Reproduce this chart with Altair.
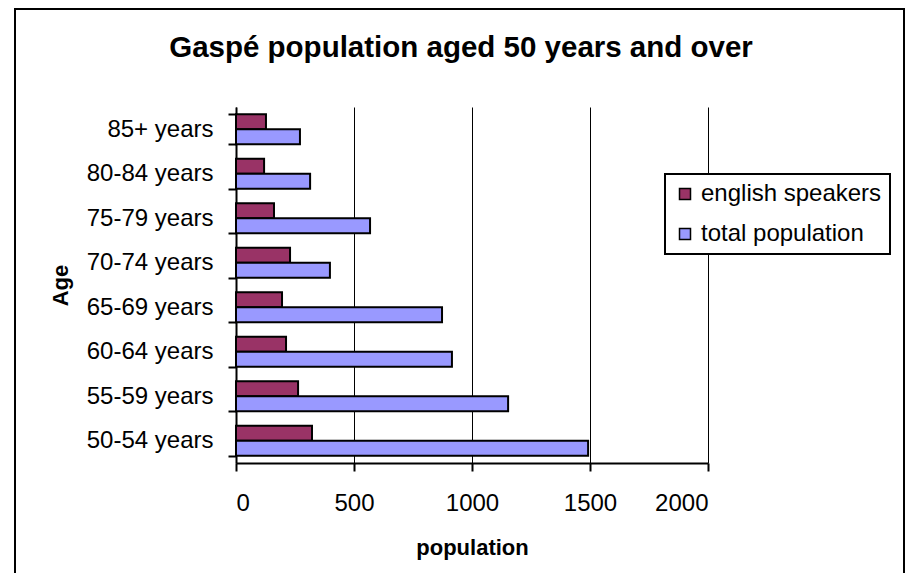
import altair as alt
import pandas as pd

ages = ["85+ years", "80-84 years", "75-79 years", "70-74 years",
        "65-69 years", "60-64 years", "55-59 years", "50-54 years"]
english = [127, 119, 161, 229, 195, 212, 263, 322]
total = [271, 314, 568, 398, 873, 915, 1153, 1492]
series = ["english speakers", "total population"]
colors = ["#993366", "#9999FF"]
ticks = [0, 500, 1000, 1500, 2000]

rows = []
for a, e, t in zip(ages, english, total):
    rows.append({"age": a, "series": series[0], "population": e})
    rows.append({"age": a, "series": series[1], "population": t})
df = pd.DataFrame(rows)

FONT = "Liberation Sans"

bars = alt.Chart(df).mark_bar(stroke="black", strokeWidth=2).encode(
    x=alt.X("population:Q",
            scale=alt.Scale(domain=[0, 2000], nice=False),
            axis=alt.Axis(values=ticks, grid=True, gridColor="black", gridWidth=1,
                          gridOpacity=1, labelPadding=20, titlePadding=22,
                          format="d"),
            title="population"),
    y=alt.Y("age:N", sort=ages,
            scale=alt.Scale(paddingInner=0.33, paddingOuter=0.165),
            axis=alt.Axis(tickBand="extent", labelPadding=15, titlePadding=14, grid=False),
            title="Age"),
    yOffset=alt.YOffset("series:N", sort=series,
                        scale=alt.Scale(domain=series, paddingInner=0, paddingOuter=0)),
    color=alt.Color("series:N",
                    scale=alt.Scale(domain=series, range=colors),
                    legend=alt.Legend(title=None, orient="none", legendX=429, legendY=67,
                                      symbolType="square", symbolSize=121,
                                      symbolStrokeColor="black", symbolStrokeWidth=1.5,
                                      labelFontSize=24, labelFont=FONT, labelColor="black",
                                      labelOffset=4, padding=8, rowPadding=16,
                                      strokeColor="black", fillColor="white",
                                      labelLimit=300)),
)

frame = alt.Chart(alt.Data(values=[{"k": 1}])).mark_rect(
    filled=False, stroke="black", strokeWidth=2
).encode(
    x=alt.value(-221), x2=alt.value(668), y=alt.value(-98), y2=alt.value(600)
)

chart = alt.layer(frame, bars).properties(
    width=472, height=356,
    title=alt.TitleParams("Gaspé population aged 50 years and over",
                          fontSize=29.5, font=FONT, fontWeight="bold", color="black",
                          dx=-11, offset=-55),
    padding={"left": 228, "top": 99, "right": 197, "bottom": 110},
    autosize=alt.AutoSizeParams(type="none"),
).configure_view(strokeWidth=0).configure_axis(
    domainColor="black", domainWidth=2, tickColor="black", tickWidth=2, tickSize=8,
    labelFont=FONT, labelFontSize=24, labelColor="black",
    titleFont=FONT, titleFontSize=22, titleFontWeight="bold", titleColor="black",
).configure_legend(strokeWidth=2)

chart.save("out.html", embed_options={"renderer": "svg", "actions": False})
